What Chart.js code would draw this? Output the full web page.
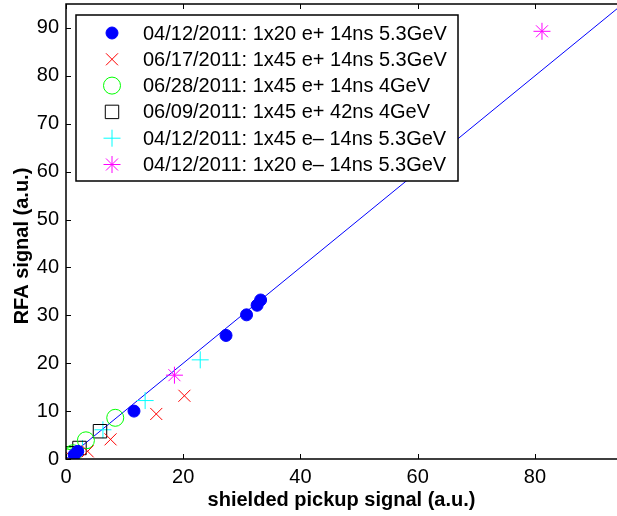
<!DOCTYPE html>
<html>
<head>
<meta charset="utf-8">
<script src="https://cdn.jsdelivr.net/npm/chart.js@4.4.0/dist/chart.umd.min.js"></script>
<style>
  html, body { margin: 0; padding: 0; background: #fff; }
  canvas { display: block; }
</style>
</head>
<body>
<canvas id="mycanvas" width="617" height="516"></canvas>
<script>
// series labels
var seriesNames = [
  '04/12/2011: 1x20 e+ 14ns 5.3GeV',
  '06/17/2011: 1x45 e+ 14ns 5.3GeV',
  '06/28/2011: 1x45 e+ 14ns 4GeV',
  '06/09/2011: 1x45 e+ 42ns 4GeV',
  '04/12/2011: 1x45 e\u2013 14ns 5.3GeV',
  '04/12/2011: 1x20 e\u2013 14ns 5.3GeV'
];

// shielded pickup signal (x) / RFA signal (y), per run
var blueX    = [1.4, 2.0, 11.6, 27.3, 30.8, 32.6, 33.2];
var blueY    = [0.9, 1.6, 10.0, 25.8, 30.1, 32.1, 33.2];
var redX     = [0.8, 1.7, 3.7, 7.6, 15.4, 20.2];
var redY     = [0.5, 0.4, 1.6, 4.1, 9.4, 13.2];
var greenX   = [0.2, 0.6, 1.2, 3.4, 8.4];
var greenY   = [0.3, 0.6, 1.2, 3.9, 8.6];
var blackX   = [0.9, 2.3, 5.8];
var blackY   = [1.2, 2.3, 5.8];
var cyanX    = [2.8, 6.3, 13.5, 22.9];
var cyanY    = [2.2, 6.1, 12.2, 20.7];
var magentaX = [18.5, 81.2];
var magentaY = [17.5, 89.3];

// fit line y = x
var fitX = [0, 95];
var fitY = [0, 95];

var xTicks = [0, 20, 40, 60, 80];
var yTicks = [0, 10, 20, 30, 40, 50, 60, 70, 80, 90];

function pts(xs, ys) {
  var out = [];
  for (var i in xs) out.push({x: xs[i], y: ys[i]});
  return out;
}

var FONT = 'Liberation Sans, Arial, Helvetica, sans-serif';

var datasets = [
  {label: seriesNames[0], data: pts(blueX, blueY), pointStyle: 'circle', pointRadius: 6,
   backgroundColor: '#0000ff', borderColor: '#0000ff', borderWidth: 1},
  {label: seriesNames[1], data: pts(redX, redY), pointStyle: 'crossRot', pointRadius: 8.5,
   backgroundColor: '#ff0000', borderColor: '#ff0000', borderWidth: 1},
  {label: seriesNames[2], data: pts(greenX, greenY), pointStyle: 'circle', pointRadius: 8.5,
   backgroundColor: 'rgba(0,0,0,0)', borderColor: '#00ff00', borderWidth: 1},
  {label: seriesNames[3], data: pts(blackX, blackY), pointStyle: 'rect', pointRadius: 9.5,
   backgroundColor: 'rgba(0,0,0,0)', borderColor: '#000000', borderWidth: 1},
  {label: seriesNames[4], data: pts(cyanX, cyanY), pointStyle: 'cross', pointRadius: 8.5,
   backgroundColor: '#00ffff', borderColor: '#00ffff', borderWidth: 1},
  {label: seriesNames[5], data: pts(magentaX, magentaY), pointStyle: 'star', pointRadius: 8.5,
   backgroundColor: '#ff00ff', borderColor: '#ff00ff', borderWidth: 1},
  {label: 'fit', data: pts(fitX, fitY), type: 'line', showLine: true, pointRadius: 0,
   borderColor: '#0000ff', borderWidth: 1, fill: false}
];

// frame with inward ticks, like the original axes box
var framePlugin = {
  id: 'frame',
  afterDraw: function(chart) {
    var ctx = chart.ctx, a = chart.chartArea;
    var xs = chart.scales.x, ys = chart.scales.y;
    ctx.save();
    ctx.strokeStyle = '#000';
    ctx.lineWidth = 1.5;
    ctx.beginPath();
    ctx.moveTo(a.right + 2, a.top); ctx.lineTo(a.left, a.top);
    ctx.lineTo(a.left, a.bottom); ctx.lineTo(a.right + 2, a.bottom);
    ctx.stroke();
    ctx.lineWidth = 1;
    ctx.beginPath();
    xTicks.forEach(function(v) {
      var px = Math.round(xs.getPixelForValue(v)) + 0.5;
      ctx.moveTo(px, a.bottom); ctx.lineTo(px, a.bottom - 5);
      ctx.moveTo(px, a.top); ctx.lineTo(px, a.top + 5);
    });
    yTicks.forEach(function(v) {
      var py = Math.round(ys.getPixelForValue(v)) + 0.5;
      ctx.moveTo(a.left, py); ctx.lineTo(a.left + 5, py);
    });
    ctx.stroke();

    // y axis title, centred a bit lower than the plot middle as in the original
    ctx.save();
    ctx.translate(22, 246);
    ctx.rotate(-Math.PI / 2);
    ctx.font = 'bold 20px ' + FONT;
    ctx.fillStyle = '#000';
    ctx.textAlign = 'center';
    ctx.textBaseline = 'middle';
    ctx.fillText('RFA signal (a.u.)', 0, 0);
    ctx.restore();
    ctx.restore();
  }
};

// boxed legend in the upper left corner
var legendPlugin = {
  id: 'boxLegend',
  afterDraw: function(chart) {
    var ctx = chart.ctx;
    var bx = 76, by = 15, bw = 382, bh = 166;
    ctx.save();
    ctx.fillStyle = '#fff';
    ctx.fillRect(bx, by, bw, bh);
    ctx.strokeStyle = '#000';
    ctx.lineWidth = 1.5;
    ctx.strokeRect(bx, by, bw, bh);
    ctx.font = '20px ' + FONT;
    ctx.textBaseline = 'middle';
    ctx.textAlign = 'left';
    for (var i = 0; i < 6; i++) {
      var ds = chart.data.datasets[i];
      var cy = 33 + i * 26.3;
      ctx.fillStyle = ds.backgroundColor;
      ctx.strokeStyle = ds.borderColor;
      ctx.lineWidth = 1;
      Chart.helpers.drawPoint(ctx, {pointStyle: ds.pointStyle, radius: ds.pointRadius, rotation: 0, borderWidth: 1}, 112, cy);
      ctx.fillStyle = '#000';
      ctx.fillText(ds.label, 143, cy + 1);
    }
    ctx.restore();
  }
};

var ctx = document.getElementById('mycanvas');

var chart = new Chart(ctx, {
  type: 'scatter',
  data: {datasets: datasets},
  plugins: [framePlugin, legendPlugin],
  options: {
    responsive: false,
    animation: false,
    layout: {autoPadding: false, padding: {top: 4, right: 0, left: 0, bottom: 0}},
    plugins: {legend: {display: false}, tooltip: {enabled: false}},
    scales: {
      x: {
        type: 'linear', min: 0, max: 94,
        grid: {display: false, drawTicks: false}, border: {display: false},
        afterBuildTicks: function(s) { s.ticks = xTicks.map(function(v) { return {value: v}; }); },
        afterFit: function(s) {
          s.height = 57;
          s.paddingLeft = 0; s.paddingRight = 0; s.paddingTop = 0; s.paddingBottom = 0;
        },
        ticks: {color: '#000', padding: 6, maxRotation: 0, font: {family: FONT, size: 20}},
        title: {display: true, text: 'shielded pickup signal (a.u.)', color: '#000',
                padding: {top: 0, bottom: 4}, font: {family: FONT, size: 20, weight: 'bold'}}
      },
      y: {
        type: 'linear', min: 0, max: 95,
        grid: {display: false, drawTicks: false}, border: {display: false},
        afterBuildTicks: function(s) { s.ticks = yTicks.map(function(v) { return {value: v}; }); },
        afterFit: function(s) {
          s.width = 66;
          s.paddingLeft = 0; s.paddingRight = 0; s.paddingTop = 0; s.paddingBottom = 0;
        },
        ticks: {color: '#000', padding: 7, font: {family: FONT, size: 20}},
        title: {display: false}
      }
    }
  }
});
</script>
</body>
</html>
